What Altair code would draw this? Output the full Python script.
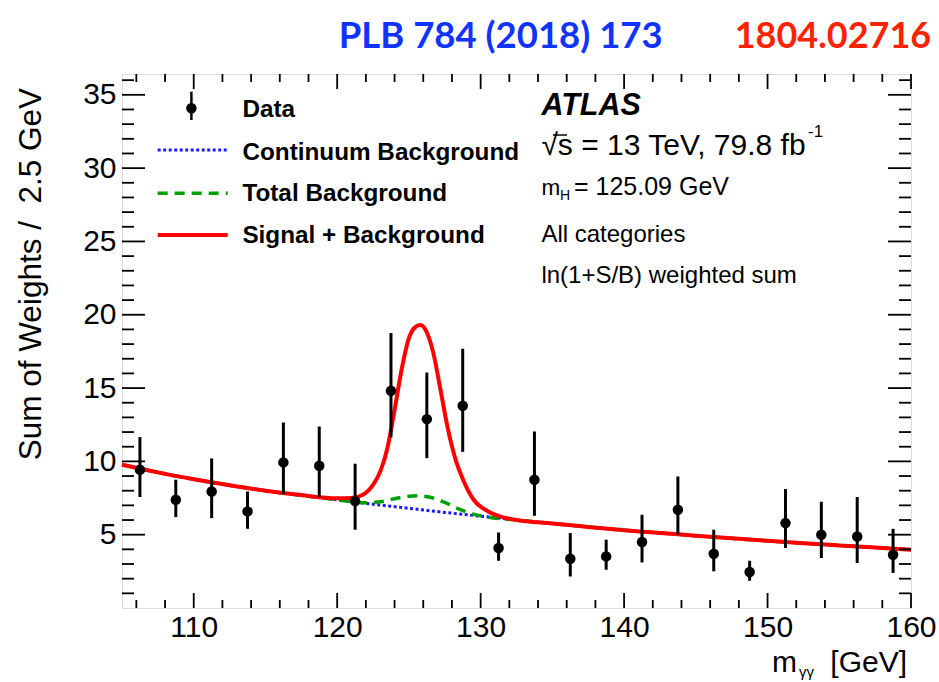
import altair as alt
import pandas as pd

# ---------------- data ----------------
bin_x = [106.25, 108.75, 111.25, 113.75, 116.25, 118.75, 121.25, 123.75, 126.25, 128.75, 131.25,
         133.75, 136.25, 138.75, 141.25, 143.75, 146.25, 148.75, 151.25, 153.75, 156.25, 158.75]
data_y = [9.43, 7.38, 7.95, 6.59, 9.93, 9.70, 7.29, 14.81, 12.88, 13.79, 4.09,
          8.75, 3.36, 3.52, 4.50, 6.70, 3.70, 2.45, 5.79, 5.00, 4.88, 3.63]
err_hi = [11.66, 8.75, 10.20, 7.95, 12.65, 12.38, 9.84, 18.75, 16.06, 17.68, 5.15,
          12.04, 5.11, 4.66, 6.36, 8.97, 5.34, 3.22, 8.11, 7.25, 7.57, 5.40]
err_lo = [7.57, 6.20, 6.13, 5.40, 7.77, 7.57, 5.34, 11.63, 10.22, 10.65, 3.22,
          6.29, 2.15, 2.61, 3.11, 5.00, 2.50, 1.86, 4.09, 3.41, 3.07, 2.39]

cont_x = [105, 107.5, 110, 112.5, 115, 117.5, 120, 122.5, 125, 127.5, 130, 132.5,
          135, 137.5, 140, 142.5, 145, 147.5, 150, 152.5, 155, 157.5, 160]
cont_y = [9.77, 9.25, 8.78, 8.37, 8.00, 7.68, 7.38, 7.08, 6.80, 6.52, 6.26, 6.00,
          5.76, 5.53, 5.30, 5.12, 4.93, 4.75, 4.58, 4.42, 4.27, 4.12, 3.98]

totbkg_x = [105, 107.5, 110, 112.5, 115, 117.5, 120, 121, 122, 123, 124, 125, 125.75, 126.5,
            127.5, 128.5, 129.5, 130.5, 132.5, 135, 137.5, 140, 142.5, 145, 147.5, 150,
            152.5, 155, 157.5, 160]
totbkg_y = [9.77, 9.25, 8.78, 8.37, 8.00, 7.68, 7.38, 7.26, 7.18, 7.24, 7.45, 7.62, 7.65, 7.55,
            7.20, 6.75, 6.40, 6.20, 6.00, 5.76, 5.53, 5.30, 5.12, 4.93, 4.75, 4.58,
            4.42, 4.27, 4.12, 3.98]

sb_x = [105, 107.5, 110, 112.5, 115, 117.5, 120, 121, 121.75, 122.5, 123, 123.5, 124, 124.5,
        125, 125.5, 125.8, 126.2, 126.7, 127.2, 127.7, 128.2, 128.8, 129.5, 130.5, 131.5,
        132.5, 135, 137.5, 140, 142.5, 145, 147.5, 150, 152.5, 155, 157.5, 160]
sb_y = [9.77, 9.25, 8.78, 8.37, 8.00, 7.70, 7.48, 7.50, 7.70, 8.40, 9.30, 10.90, 13.50, 16.30,
        18.40, 19.20, 19.30, 18.90, 17.40, 14.90, 12.30, 10.30, 8.70, 7.40, 6.60, 6.20,
        6.00, 5.76, 5.53, 5.30, 5.12, 4.93, 4.75, 4.58, 4.42, 4.27, 4.12, 3.98]

x_major = [110, 120, 130, 140, 150, 160]
x_minor = [106, 108, 112, 114, 116, 118, 122, 124, 126, 128, 132, 134, 136, 138,
           142, 144, 146, 148, 152, 154, 156, 158]
y_major = [5, 10, 15, 20, 25, 30, 35]
y_minor = [1, 2, 3, 4, 6, 7, 8, 9, 11, 12, 13, 14, 16, 17, 18, 19, 21, 22, 23, 24,
           26, 27, 28, 29, 31, 32, 33, 34, 36]

# ---------------- layout ----------------
W, H = 789, 534
FONT = "Liberation Sans"
xs = alt.Scale(domain=[105, 160], nice=False, zero=False)
ys = alt.Scale(domain=[0, 36.42], nice=False, zero=False)
one = pd.DataFrame({"a": [0]})

AX = alt.Axis(values=x_major, labelFontSize=30, labelFont=FONT, labelColor="black",
              ticks=False, domain=False, grid=False, title=None, labelPadding=4,
              labelFlush=False, labelOverlap=False)
AY = alt.Axis(values=y_major, labelFontSize=30, labelFont=FONT, labelColor="black",
              ticks=False, domain=False, grid=False, title=None, labelPadding=6,
              labelFlush=False, labelOverlap=False)

pts = pd.DataFrame({"x": bin_x, "y": data_y, "lo": err_lo, "hi": err_hi})
cont = pd.DataFrame({"x": cont_x, "y": cont_y})
tot = pd.DataFrame({"x": totbkg_x, "y": totbkg_y})
sb = pd.DataFrame({"x": sb_x, "y": sb_y})

XN = alt.X("x:Q", scale=xs, axis=AX)
YN = alt.Y("y:Q", scale=ys, axis=AY)

cont_line = alt.Chart(cont).mark_line(color="#1a1aff", strokeWidth=3, strokeDash=[3, 2.5],
                                      interpolate="monotone").encode(x=XN, y=YN)
tot_line = alt.Chart(tot).mark_line(color="#00a000", strokeWidth=3.5, strokeDash=[10, 7],
                                    interpolate="monotone").encode(x=XN, y=YN)
sb_line = alt.Chart(sb).mark_line(color="#ff0000", strokeWidth=4,
                                  interpolate="monotone").encode(x=XN, y=YN)

errbars = alt.Chart(pts).mark_rule(color="black", strokeWidth=3).encode(
    x=XN, y=alt.Y("lo:Q", scale=ys, axis=AY), y2="hi:Q")
dots = alt.Chart(pts).mark_circle(color="black", size=110, opacity=1).encode(x=XN, y=YN)

# ---- inward ticks on all four sides ----
def yticks(vals, length):
    df = pd.DataFrame({"v": vals})
    yy = alt.Y("v:Q", scale=ys, axis=AY)
    l = alt.Chart(df).mark_rule(color="black", strokeWidth=1.8).encode(
        y=yy, x=alt.value(0), x2=alt.value(length))
    r = alt.Chart(df).mark_rule(color="black", strokeWidth=1.8).encode(
        y=yy, x=alt.value(W), x2=alt.value(W - length))
    return [l, r]

def xticks(vals, length):
    df = pd.DataFrame({"v": vals})
    xx = alt.X("v:Q", scale=xs, axis=AX)
    b = alt.Chart(df).mark_rule(color="black", strokeWidth=1.8).encode(
        x=xx, y=alt.value(H), y2=alt.value(H - length))
    t = alt.Chart(df).mark_rule(color="black", strokeWidth=1.8).encode(
        x=xx, y=alt.value(0), y2=alt.value(length))
    return [b, t]

ticks = yticks(y_major, 23) + yticks(y_minor, 12) + xticks(x_major, 15) + xticks(x_minor, 8)

# ---- text helpers ----
def txt(s, x, y, size, weight="normal", style="normal", color="black", font=FONT,
        align="left", angle=0):
    return alt.Chart(one).mark_text(text=s, font=font, fontSize=size, fontWeight=weight,
                                    fontStyle=style, color=color, align=align,
                                    baseline="alphabetic", angle=angle).encode(
        x=alt.value(x), y=alt.value(y))

def hrule(x1, x2, y, color, width, dash=None):
    kw = dict(color=color, strokeWidth=width)
    if dash:
        kw["strokeDash"] = dash
    return alt.Chart(one).mark_rule(**kw).encode(x=alt.value(x1), x2=alt.value(x2), y=alt.value(y))

# legend
leg = [
    alt.Chart(one).mark_rule(color="black", strokeWidth=2.5).encode(
        x=alt.value(69.4), y=alt.value(17.7), y2=alt.value(46)),
    alt.Chart(one).mark_circle(color="black", size=110, opacity=1).encode(
        x=alt.value(69.4), y=alt.value(34.3)),
    hrule(35.7, 105.7, 76, "#1a1aff", 3, [3, 2.5]),
    hrule(35.7, 105.7, 119.3, "#00a000", 3.5, [10, 7]),
    hrule(35.7, 105.7, 161, "#ff0000", 4),
    txt("Data", 120.4, 42.7, 24.3, weight="bold"),
    txt("Continuum Background", 120.4, 86, 24.3, weight="bold"),
    txt("Total Background", 120.4, 126.7, 24.3, weight="bold"),
    txt("Signal + Background", 120.4, 169, 24.3, weight="bold"),
]

# ATLAS block
atl = [
    txt("ATLAS", 419.4, 41, 30.5, weight="bold", style="italic"),
    txt("\u221as = 13 TeV, 79.8 fb", 419.4, 81, 30),
    hrule(431, 445, 61, "black", 1.5),
    txt("-1", 686, 63, 17),
    txt("m", 419.4, 121, 22.5),
    txt("H", 438, 126, 14),
    txt("= 125.09 GeV", 452, 121, 25),
    txt("All categories", 419.4, 168, 24),
    txt("ln(1+S/B) weighted sum", 419.4, 209, 24),
]

# axis titles
titles = [
    txt("Sum of Weights /\u00a0 2.5 GeV", -81, 14, 31.5, align="right", angle=270),
    txt("m", 650, 598, 30),
    txt("\u03b3\u03b3", 677, 603, 15),
    txt("[GeV]", 785, 598, 30, align="right"),
    txt("PLB 784 (2018) 173", 216.7, -26, 36.5, weight="bold", color="#1133ff", font="Lato"),
    txt("1804.02716", 612.7, -26, 36, weight="bold", color="#ff2200", font="Lato"),
]

chart = alt.layer(
    cont_line, tot_line, sb_line, errbars, dots, *ticks, *leg, *atl, *titles
).properties(
    width=W, height=H,
    autosize=alt.AutoSizeParams(type="none"),
    padding={"left": 122, "top": 74, "right": 28, "bottom": 74},
).configure_view(stroke="black", strokeWidth=2).configure(background="white")

chart.save("out.html", embed_options={"renderer": "svg", "actions": False})
